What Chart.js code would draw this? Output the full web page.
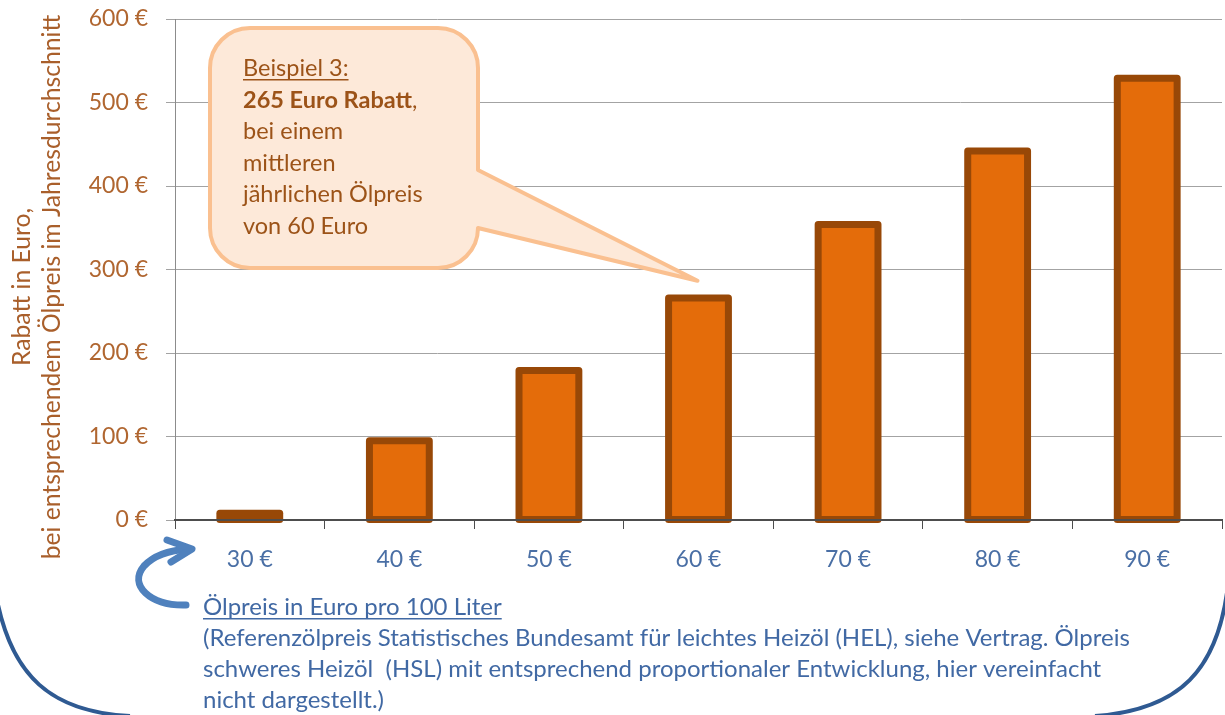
<!DOCTYPE html>
<html>
<head>
<meta charset="utf-8">
<script src="https://cdn.jsdelivr.net/npm/chart.js@4.4.1/dist/chart.umd.min.js"></script>
<style>
  html, body { margin: 0; padding: 0; background: #ffffff; }
  #wrap { width: 1225px; height: 715px; position: relative; }
</style>
</head>
<body>
<div id="wrap"><canvas id="c" width="1225" height="715"></canvas></div>
<script>
// ---- data ----
const categories = ['30 €', '40 €', '50 €', '60 €', '70 €', '80 €', '90 €'];
const rabattValues = [8, 95, 179, 266, 354, 442, 529];
const yMin = 0;
const yMax = 600;
const yStep = 100;
const yTitleLines = ['Rabatt in Euro,', 'bei entsprechendem Ölpreis im Jahresdurchschnitt'];
const calloutTitle = 'Beispiel 3:';
const calloutBold = '265 Euro Rabatt';
const calloutLines = ['bei einem', 'mittleren', 'jährlichen Ölpreis', 'von 60 Euro'];
const calloutCategoryIndex = 3;
const calloutValue = 265;
const noteTitle = 'Ölpreis in Euro pro 100 Liter';
const noteLines = [
  '(Referenzölpreis Statistisches Bundesamt für leichtes Heizöl (HEL), siehe Vertrag. Ölpreis',
  'schweres Heizöl  (HSL) mit entsprechend proportionaler Entwicklung, hier vereinfacht',
  'nicht dargestellt.)'
];

const FONT = 'Lato, "Open Sans", sans-serif';
const BROWN = '#A95F2B';
const BLUE = '#4169A4';

const decorPlugin = {
  id: 'decor',
  afterDatasetsDraw(chart) {
    const ctx = chart.ctx;
    const meta = chart.getDatasetMeta(0);
    ctx.save();
    ctx.strokeStyle = '#984807';
    ctx.lineWidth = 7;
    ctx.lineJoin = 'round';
    meta.data.forEach(el => {
      ctx.strokeRect(el.x - el.width / 2, el.y, el.width, el.base - el.y);
    });
    const a = chart.chartArea;
    ctx.strokeStyle = '#4d4d4d';
    ctx.lineWidth = 2;
    ctx.beginPath();
    ctx.moveTo(a.left, a.bottom);
    ctx.lineTo(a.right, a.bottom);
    ctx.stroke();
    ctx.restore();
  },
  afterDraw(chart) {
    const ctx = chart.ctx;
    const xs = chart.scales.x, ys = chart.scales.y;
    ctx.save();

    // ---- y axis title (rotated, two lines) ----
    ctx.fillStyle = BROWN;
    ctx.textAlign = 'center';
    ctx.textBaseline = 'alphabetic';
    let ts = 22;
    ctx.font = ts + 'px ' + FONT;
    const w2 = ctx.measureText(yTitleLines[1]).width;
    ts = Math.min(26, ts * 545 / w2);
    ctx.font = ts + 'px ' + FONT;
    [30, 60].forEach((bx, i) => {
      ctx.save();
      ctx.translate(bx, 287);
      ctx.rotate(-Math.PI / 2);
      ctx.fillText(yTitleLines[i], 0, 0);
      ctx.restore();
    });

    // ---- callout ----
    const L = 210, T = 28, R = 478, B = 268, r = 40;
    const tipX = xs.getPixelForValue(calloutCategoryIndex) - 1;
    const tipY = ys.getPixelForValue(calloutValue) - 18;
    ctx.beginPath();
    ctx.moveTo(L + r, T);
    ctx.lineTo(R - r, T);
    ctx.arcTo(R, T, R, T + r, r);
    ctx.lineTo(R, 170);
    ctx.lineTo(tipX, tipY);
    ctx.lineTo(R, 228);
    ctx.arcTo(R, B, R - r, B, r);
    ctx.lineTo(L + r, B);
    ctx.arcTo(L, B, L, B - r, r);
    ctx.lineTo(L, T + r);
    ctx.arcTo(L, T, L + r, T, r);
    ctx.closePath();
    ctx.fillStyle = '#FDE9D9';
    ctx.fill();
    ctx.strokeStyle = '#FAC090';
    ctx.lineWidth = 4;
    ctx.lineJoin = 'round';
    ctx.stroke();

    ctx.textAlign = 'left';
    ctx.fillStyle = '#9C5318';
    const cfs = 23.5;
    const cx = 243; let by = 76; const lh = 31.5;
    ctx.font = cfs + 'px ' + FONT;
    ctx.fillText(calloutTitle, cx, by);
    const tw = ctx.measureText(calloutTitle).width;
    ctx.fillRect(cx, by + 3, tw, 1.5);
    by += lh;
    ctx.font = 'bold ' + cfs + 'px ' + FONT;
    ctx.fillText(calloutBold, cx, by);
    const bw = ctx.measureText(calloutBold).width;
    ctx.font = cfs + 'px ' + FONT;
    ctx.fillText(',', cx + bw, by);
    calloutLines.forEach(t => { by += lh; ctx.fillText(t, cx, by); });

    // ---- blue curved arrow ----
    ctx.strokeStyle = '#4F81BD';
    ctx.lineWidth = 7;
    ctx.lineCap = 'round';
    ctx.lineJoin = 'round';
    ctx.beginPath();
    ctx.moveTo(186, 605);
    ctx.bezierCurveTo(150, 606, 128, 585, 144, 566);
    ctx.quadraticCurveTo(158, 551, 188, 549);
    ctx.stroke();
    ctx.beginPath();
    ctx.moveTo(167, 540);
    ctx.lineTo(192, 549);
    ctx.lineTo(171, 562);
    ctx.stroke();

    // ---- big dark blue frame curves ----
    ctx.strokeStyle = '#2F5A92';
    ctx.lineWidth = 4;
    ctx.lineCap = 'butt';
    ctx.beginPath();
    ctx.moveTo(-3, 600);
    ctx.bezierCurveTo(12, 675, 50, 712, 130, 716);
    ctx.stroke();
    ctx.beginPath();
    ctx.moveTo(1228, 585);
    ctx.bezierCurveTo(1218, 670, 1180, 710, 1095, 716);
    ctx.stroke();

    // ---- note text ----
    ctx.fillStyle = BLUE;
    let ns = 22;
    ctx.font = ns + 'px ' + FONT;
    const nw = ctx.measureText(noteLines[0]).width;
    ns = Math.min(24, ns * 960 / nw);
    ctx.font = ns + 'px ' + FONT;
    const nx = 203; let ny = 615;
    ctx.fillText(noteTitle, nx, ny);
    const ntw = ctx.measureText(noteTitle).width;
    ctx.fillRect(nx, ny + 3, ntw, 1.5);
    noteLines.forEach(t => { ny += 31; ctx.fillText(t, nx, ny); });

    ctx.restore();
  }
};

function build() {
  Chart.defaults.font.family = FONT;
  new Chart(document.getElementById('c'), {
    type: 'bar',
    data: {
      labels: categories,
      datasets: [{
        data: rabattValues,
        backgroundColor: '#E46C0A',
        borderWidth: 0,
        barPercentage: 0.40,
        categoryPercentage: 1.0
      }]
    },
    options: {
      responsive: false,
      animation: false,
      devicePixelRatio: 1,
      layout: { padding: { top: 19, right: 3, bottom: 135, left: 0 } },
      plugins: { legend: { display: false }, tooltip: { enabled: false } },
      scales: {
        x: {
          afterFit(s) { s.height = 60; s.paddingLeft = 0; s.paddingRight = 0; },
          grid: { display: true, drawOnChartArea: false, drawTicks: true, tickLength: 9, color: '#4d4d4d', lineWidth: 1 },
          border: { display: true, color: '#4d4d4d', width: 2 },
          ticks: { color: '#4A6FA5', font: { size: 23 }, padding: 17, maxRotation: 0 }
        },
        y: {
          min: yMin, max: yMax,
          afterFit(s) { s.width = 175; s.paddingTop = 0; s.paddingBottom = 0; },
          grid: { color: '#A3A3A3', lineWidth: 1, tickLength: 9 },
          border: { display: true, color: '#8C8C8C', width: 1 },
          ticks: {
            stepSize: yStep,
            color: '#B06630',
            font: { size: 23 },
            padding: 18,
            callback: v => v + ' €'
          }
        }
      }
    },
    plugins: [decorPlugin]
  });
}

if (document.fonts && document.fonts.load) {
  Promise.all([
    document.fonts.load('21px Lato'),
    document.fonts.load('bold 21px Lato')
  ]).then(build, build);
} else {
  build();
}
</script>
</body>
</html>
